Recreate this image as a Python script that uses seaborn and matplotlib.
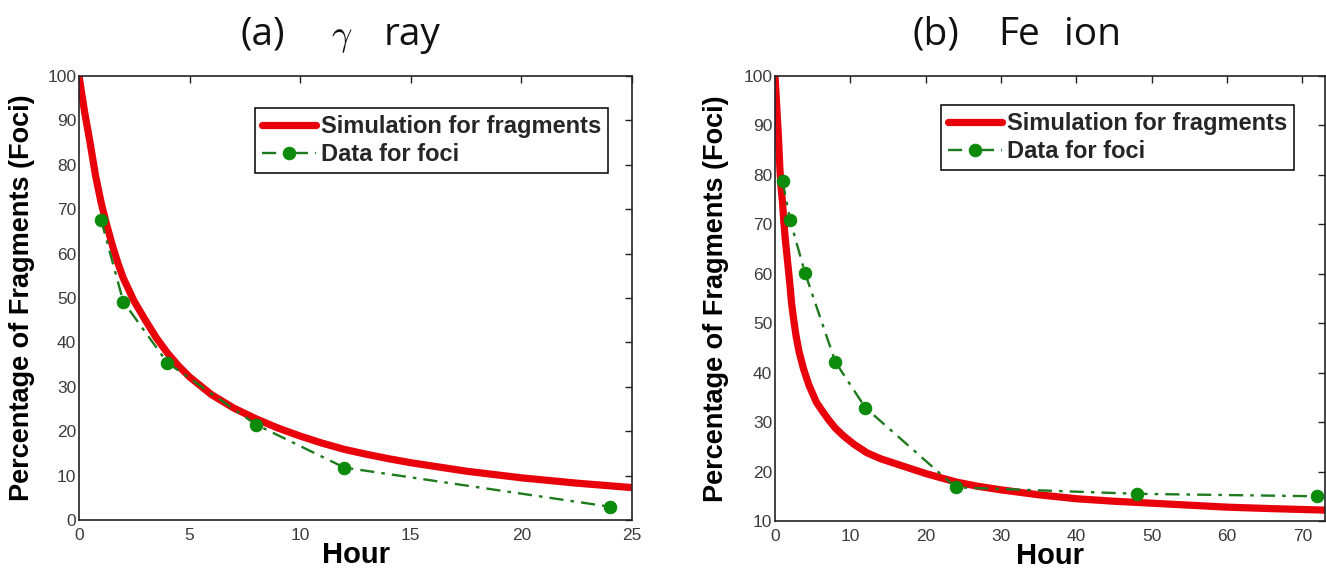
import numpy as np
import pandas as pd
import matplotlib
matplotlib.use("Agg")
import matplotlib.pyplot as plt
import seaborn as sns

# ---- (a) gamma ray ----
sim_a_hours = [0, 0.25, 0.5, 0.75, 1, 1.25, 1.5, 1.75, 2, 2.5, 3, 3.5, 4, 4.5, 5,
               6, 7, 8, 9, 10, 11, 12, 13, 14, 15, 17.5, 20, 22.5, 25]
sim_a_pct = [100, 92, 85, 77.5, 71.5, 66.5, 62, 58, 54.5, 49.2, 45, 41, 37.6, 34.7,
             32.2, 28.2, 25.2, 22.8, 20.7, 18.9, 17.3, 15.9, 14.8, 13.8, 12.9, 11.0,
             9.5, 8.3, 7.3]
foci_a_hours = [1, 2, 4, 8, 12, 24]
foci_a_pct = [67.6, 49.2, 35.4, 21.5, 11.8, 3.0]

# ---- (b) Fe ion ----
sim_b_hours = [0, 0.1, 0.2, 0.33, 0.45, 0.55, 0.66, 0.8, 1.0, 1.15, 1.33, 1.55, 1.77,
               2.0, 2.2, 2.5, 2.8, 3.2, 3.8, 4.5, 5.5, 6.3, 7.1, 8, 9.1, 10.5, 12.2,
               14, 17, 20, 24, 27, 30, 35, 40, 45, 50, 55, 60, 66, 73]
sim_b_pct = [100, 97.5, 94.6, 91, 88, 84.5, 81, 77.5, 74.4, 71, 67.6, 64.2, 61,
             57.5, 54, 50.5, 47.4, 44.2, 40.7, 37.5, 34, 32.2, 30.5, 28.8, 27.2,
             25.5, 23.8, 22.6, 21.1, 19.6, 17.9, 17, 16.3, 15.3, 14.5, 14.0, 13.6,
             13.2, 12.8, 12.5, 12.2]
foci_b_hours = [1, 2, 4, 8, 12, 24, 48, 72]
foci_b_pct = [78.8, 70.9, 60.1, 42.2, 32.9, 16.8, 15.5, 15.0]

x_ticks_a = [0, 5, 10, 15, 20, 25]
x_ticks_b = [0, 10, 20, 30, 40, 50, 60, 70]
y_ticks_a = list(range(0, 101, 10))
y_ticks_b = list(range(10, 101, 10))

sim_label = "Simulation for fragments"
foci_label = "Data for foci"

sns.set_theme(style="white")
plt.rcParams["font.family"] = ["Liberation Sans", "DejaVu Sans"]
plt.rcParams["mathtext.fontset"] = "cm"

RED = "#e8000b"
GREEN_LINE = "#1e7a1e"
GREEN_MARK = "#0b8a0b"
TICK_COLOR = "#3c3c3c"

fig = plt.figure(figsize=(13.26, 5.75), dpi=100)
ax_a = fig.add_axes([79 / 1326, 55 / 575, 553 / 1326, 444 / 575])
ax_b = fig.add_axes([775 / 1326, 54 / 575, 550 / 1326, 445 / 575])


def draw_panel(ax, sh, sp, fh, fp, xlim, ylim, xt, yt, leg_anchor, ylab_x):
    sim = pd.DataFrame({"hour": sh, "pct": sp})
    foci = pd.DataFrame({"hour": fh, "pct": fp})
    sns.lineplot(data=sim, x="hour", y="pct", ax=ax, color=RED, linewidth=5.2,
                 label=sim_label, estimator=None, solid_joinstyle="round")
    sns.lineplot(data=foci, x="hour", y="pct", ax=ax, color=GREEN_LINE,
                 linewidth=1.7, linestyle=(0, (6, 3, 1.5, 3)), marker="o",
                 markersize=9, markerfacecolor=GREEN_MARK,
                 markeredgecolor=GREEN_MARK, label=foci_label, estimator=None)
    ax.set_xlim(*xlim)
    ax.set_ylim(*ylim)
    ax.set_xticks(xt)
    ax.set_yticks(yt)
    ax.tick_params(direction="in", length=5, width=1, colors="#222222",
                   top=True, right=True, labelsize=12.5)
    ax.tick_params(axis="x", pad=6)
    ax.tick_params(axis="y", pad=2)
    for lab in ax.get_xticklabels() + ax.get_yticklabels():
        lab.set_color(TICK_COLOR)
    for sp_ in ax.spines.values():
        sp_.set_color("#222222")
        sp_.set_linewidth(1.2)
    ax.set_xlabel("Hour", fontsize=21, fontweight="bold", color="black")
    ax.set_ylabel("Percentage of Fragments (Foci)", fontsize=19.5,
                  fontweight="bold", color="black")
    ax.xaxis.set_label_coords(0.5, -0.048)
    ax.yaxis.set_label_coords(ylab_x, 0.5)
    leg = ax.legend(loc="upper right", bbox_to_anchor=leg_anchor,
                    borderaxespad=0, frameon=True, fancybox=False,
                    edgecolor="black", framealpha=1, borderpad=0.3,
                    labelspacing=0.22, handlelength=2.3, handletextpad=0.2,
                    prop={"weight": "bold", "size": 17})
    leg.get_frame().set_linewidth(1.1)


draw_panel(ax_a, sim_a_hours, sim_a_pct, foci_a_hours, foci_a_pct,
           (0, 25), (0, 100), x_ticks_a, y_ticks_a, (0.957, 0.928), -0.08)
draw_panel(ax_b, sim_b_hours, sim_b_pct, foci_b_hours, foci_b_pct,
           (0, 73), (10, 100), x_ticks_b, y_ticks_b, (0.944, 0.935), -0.084)

# Panel titles
title_y = 1 - 45 / 575
tfont = dict(family=["Open Sans", "DejaVu Sans"], fontsize=28, color="#111111",
             va="baseline", ha="left")
fig.text(240 / 1326, title_y, "(a)", **tfont)
fig.text(331 / 1326, title_y, r"$\gamma$", fontsize=26, color="#111111",
         va="baseline", ha="left")
fig.text(384 / 1326, title_y, "ray", **tfont)
fig.text(913 / 1326, title_y, "(b)", **tfont)
fig.text(998 / 1326, title_y, "Fe", **tfont)
fig.text(1064 / 1326, title_y, "ion", **tfont)

fig.savefig("out.png", dpi=100, facecolor="white")
